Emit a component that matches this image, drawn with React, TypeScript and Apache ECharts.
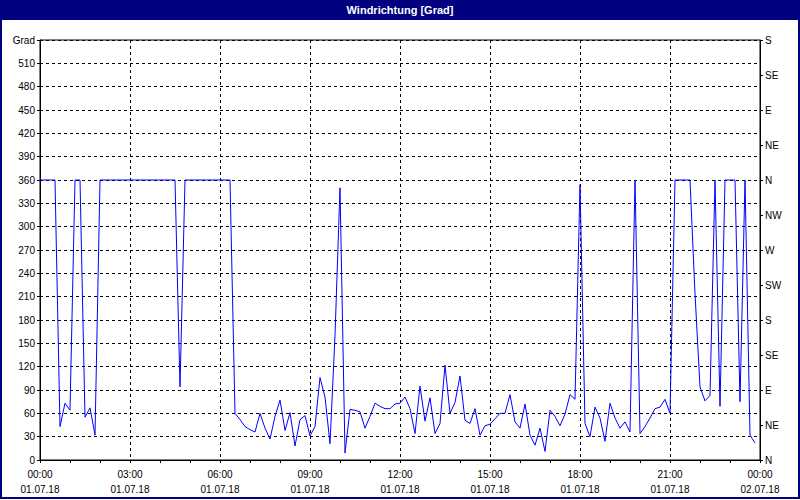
import React, { useEffect, useRef } from "react";
import * as echarts from "echarts";

// Wind direction in degrees, one value every 10 minutes from 01.07.18 00:00
const windDirection: number[] = [
  360, 360, 360, 360, 43, 73, 64, 360, 360, 55, 67, 32,
  360, 360, 360, 360, 360, 360, 360, 360, 360, 360, 360, 360,
  360, 360, 360, 360, 94, 360, 360, 360, 360, 360, 360, 360,
  360, 360, 360, 60, 52, 43, 39, 36, 60, 41, 27, 56,
  77, 38, 61, 18, 52, 57, 31, 43, 106, 81, 21, 160,
  350, 9, 65, 64, 62, 41, 56, 73, 69, 66, 66, 72,
  73, 81, 66, 34, 95, 50, 80, 34, 47, 122, 60, 74,
  108, 51, 47, 66, 32, 44, 46, 53, 60, 60, 84, 49,
  41, 72, 32, 19, 41, 11, 64, 56, 44, 59, 84, 78,
  354, 47, 30, 68, 54, 24, 73, 54, 41, 49, 36, 360,
  34, 43, 54, 66, 68, 78, 60, 360, 360, 360, 360, 214,
  94, 76, 83, 360, 69, 360, 360, 360, 75, 360, 32, 22,
];
const stepMinutes = 10;

// Axis texts
const directionLabels: string[] = ["N", "NE", "E", "SE", "S", "SW", "W", "NW", "N", "NE", "E", "SE", "S"];
const dateLabels: string[] = ["01.07.18", "02.07.18"];
const leftTopLabel = "Grad";
const titleText = "Windrichtung [Grad]";

const FONT = "Liberation Sans";

export default function App() {
  const ref = useRef<HTMLDivElement>(null);
  useEffect(() => {
    if (!ref.current) return;
    const chart = echarts.init(ref.current, null, { renderer: "svg" });
    const seriesData = windDirection.map((v, i) => [(i * stepMinutes) / 60, v]);
    const pad = (n: number) => (n < 10 ? "0" + n : String(n));
    chart.setOption({
      animation: false,
      backgroundColor: "#ffffff",
      textStyle: { fontFamily: FONT },
      grid: { left: 40, right: 40, top: 40, bottom: 40, show: true, borderColor: "#000", borderWidth: 1, backgroundColor: "#fff" },
      graphic: [
        { type: "rect", shape: { x: 0, y: 0, width: 800, height: 20 }, style: { fill: "#000080" }, z: 10 },
        {
          type: "text",
          x: 400,
          y: 10,
          style: { text: titleText, fill: "#fff", font: `bold 11px "${FONT}"`, textAlign: "center", textVerticalAlign: "middle" },
          z: 11,
        },
        { type: "rect", shape: { x: 1, y: 1, width: 798, height: 497 }, style: { fill: "none", stroke: "#000080", lineWidth: 2 }, z: 10 },
      ],
      xAxis: {
        type: "value",
        min: 0,
        max: 24,
        interval: 3,
        axisLine: { show: true, lineStyle: { color: "#000", width: 1 } },
        axisTick: { show: true, length: 3, lineStyle: { color: "#000" } },
        minorTick: { show: true, splitNumber: 3, length: 3, lineStyle: { color: "#000" } },
        splitLine: { show: true, lineStyle: { color: "#000", type: [3, 3], width: 1 } },
        axisLabel: {
          margin: 7,
          color: "#000",
          fontSize: 10,
          fontFamily: FONT,
          lineHeight: 15,
          formatter: (v: number) => {
            const h = v % 24;
            const d = v >= 24 ? dateLabels[1] : dateLabels[0];
            return pad(h) + ":00\n" + d;
          },
        },
      },
      yAxis: [
        {
          type: "value",
          min: 0,
          max: 540,
          interval: 30,
          position: "left",
          axisLine: { show: true, lineStyle: { color: "#000" } },
          axisTick: { show: true, length: 3, lineStyle: { color: "#000" } },
          splitLine: { show: true, lineStyle: { color: "#000", type: [3, 3], width: 1 } },
          axisLabel: {
            margin: 5,
            color: "#000",
            fontSize: 10,
            fontFamily: FONT,
            formatter: (v: number) => (v === 540 ? leftTopLabel : String(v)),
          },
        },
        {
          type: "value",
          min: 0,
          max: 540,
          interval: 45,
          position: "right",
          axisLine: { show: true, lineStyle: { color: "#000" } },
          axisTick: { show: true, length: 3, lineStyle: { color: "#000" } },
          splitLine: { show: false },
          axisLabel: {
            margin: 5,
            color: "#000",
            fontSize: 10,
            fontFamily: FONT,
            formatter: (v: number) => directionLabels[Math.round(v / 45)] ?? "",
          },
        },
      ],
      series: [
        {
          type: "line",
          data: seriesData,
          yAxisIndex: 0,
          showSymbol: false,
          symbol: "none",
          lineStyle: { color: "#0000ff", width: 1 },
          itemStyle: { color: "#0000ff" },
        },
      ],
    });
    return () => chart.dispose();
  }, []);
  return <div ref={ref} style={{ position: "fixed", left: 0, top: 0, width: 800, height: 500 }} />;
}
